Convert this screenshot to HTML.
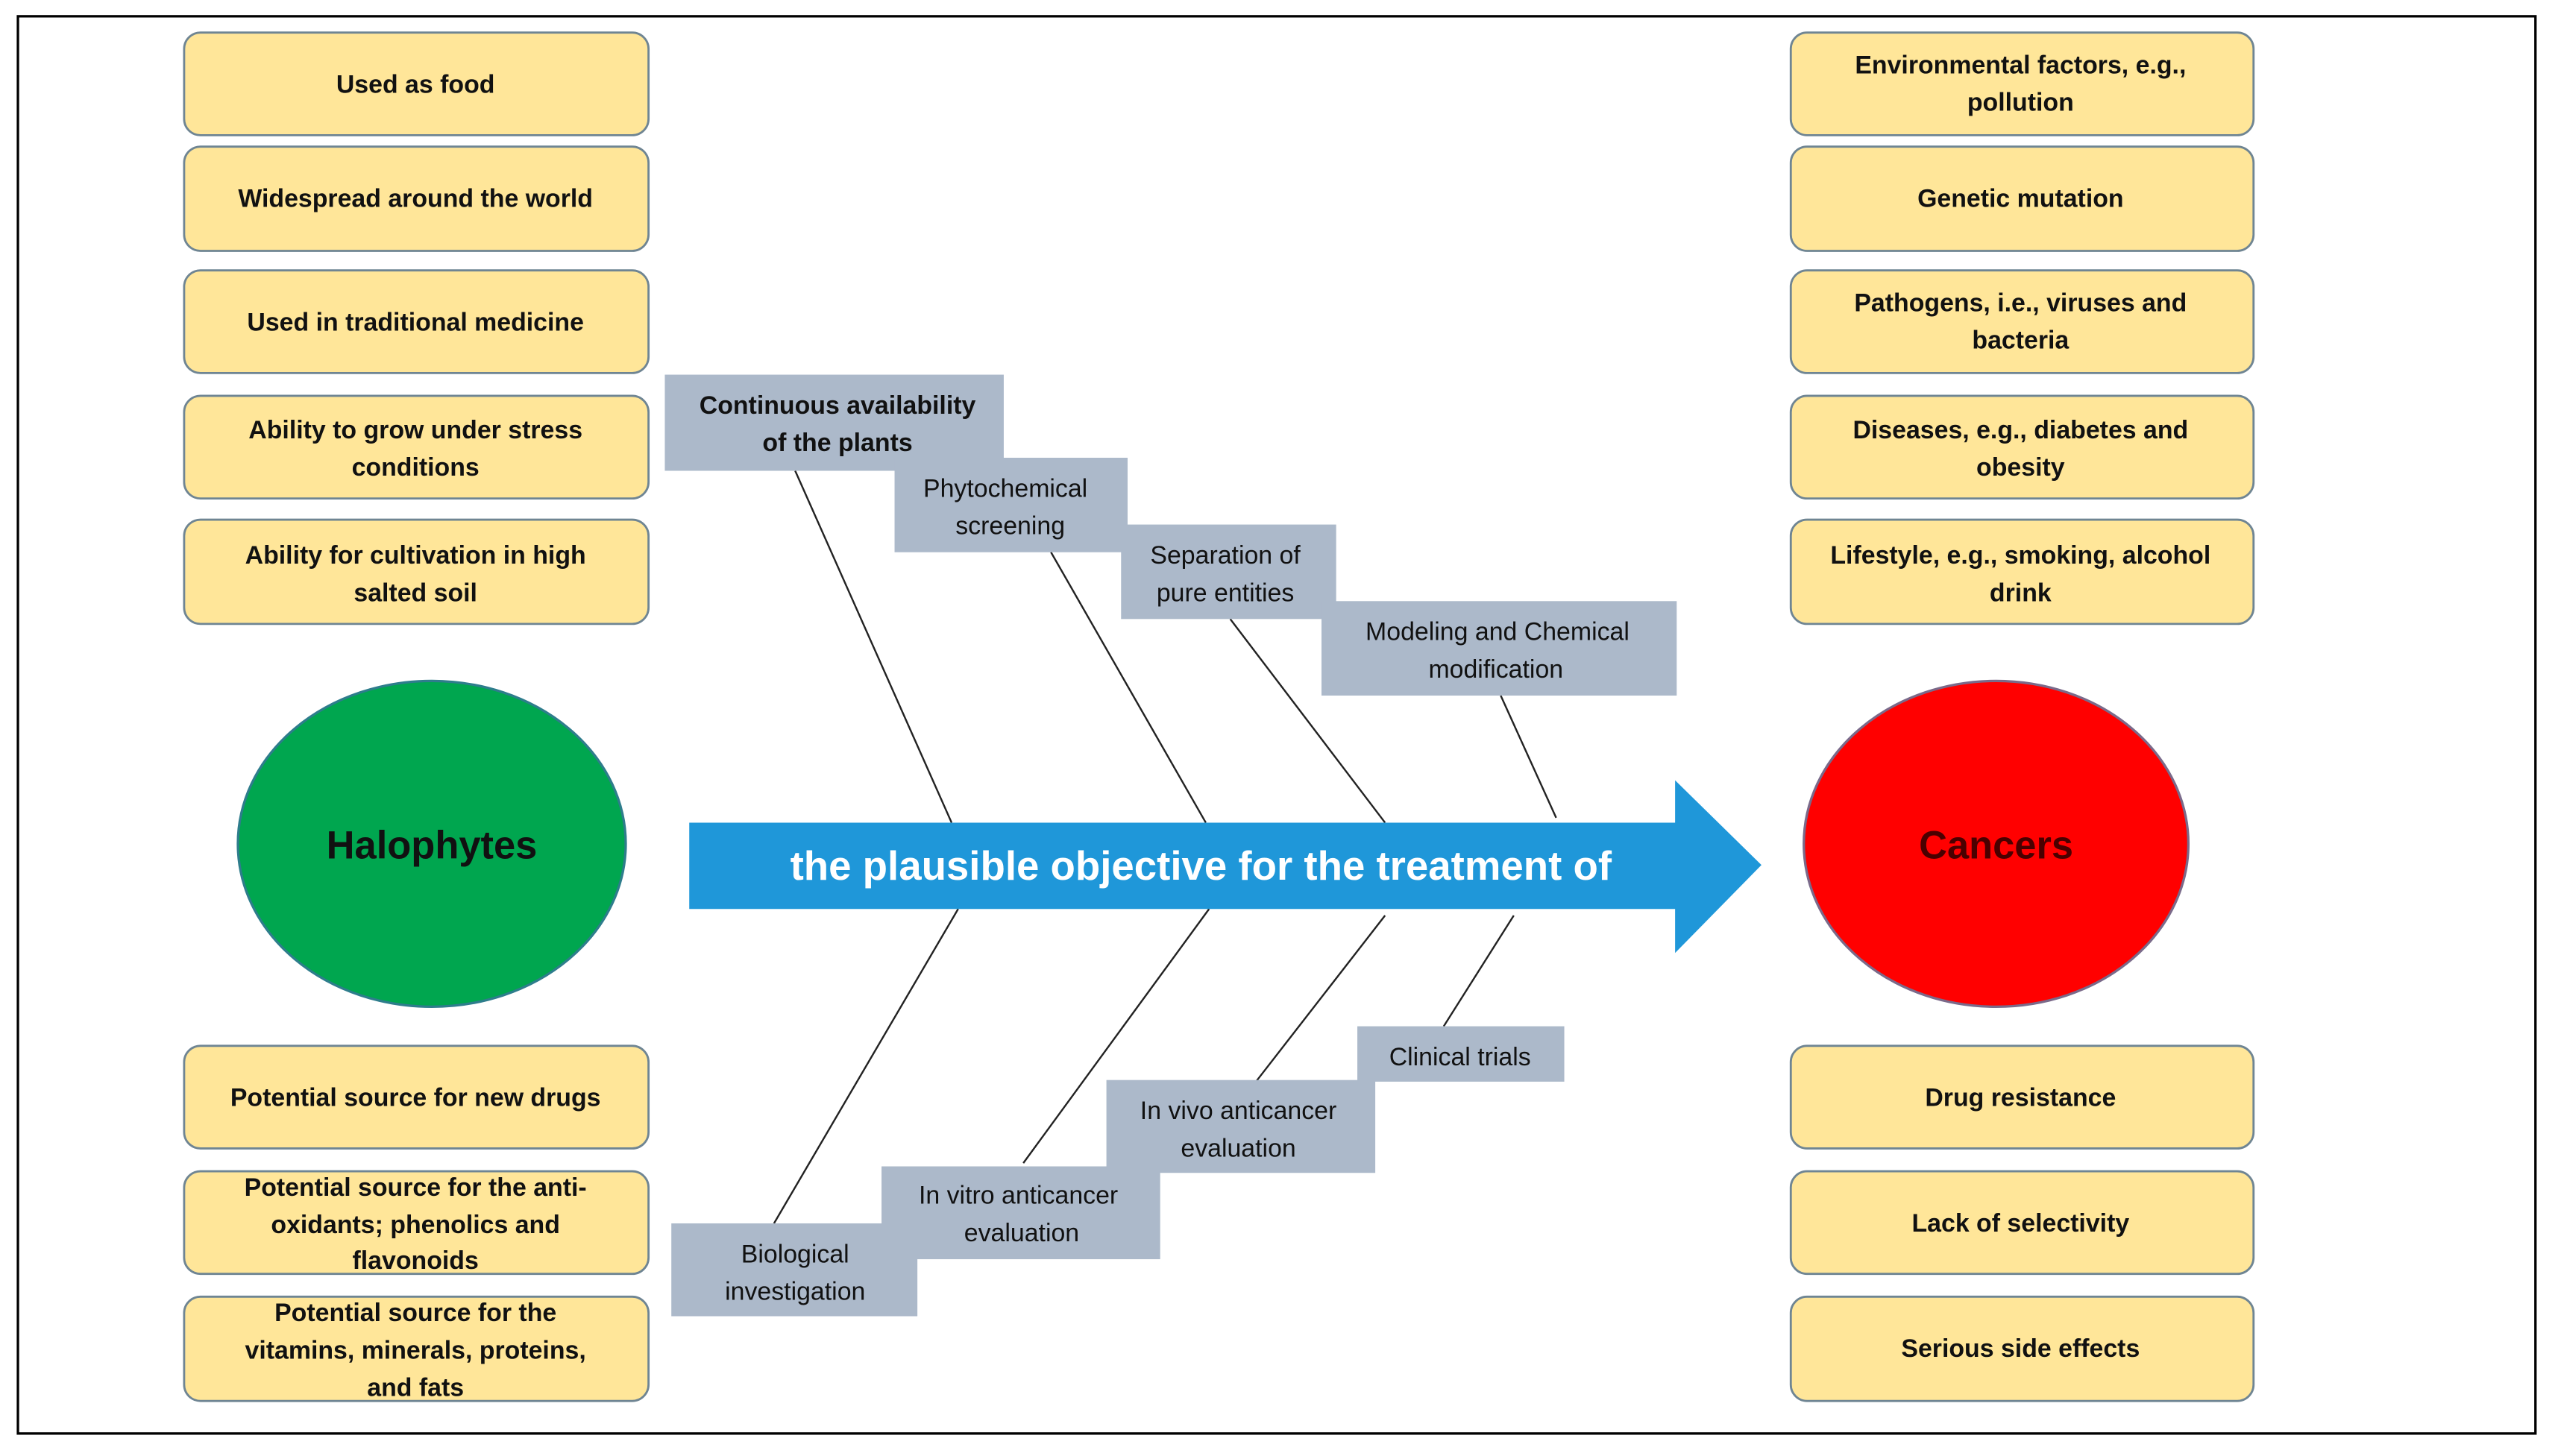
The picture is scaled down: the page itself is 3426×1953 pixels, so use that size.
<!DOCTYPE html>
<html><head><meta charset="utf-8"><style>
html,body{margin:0;padding:0;background:#fff;}
svg{display:block;}
text{font-family:"Liberation Sans",sans-serif;}
</style></head><body>
<svg width="3426" height="1953" viewBox="0 0 1568 893.8" preserveAspectRatio="none" xmlns="http://www.w3.org/2000/svg">
<rect x="11" y="10" width="1545" height="870" fill="#fff" stroke="#000" stroke-width="1.5"/>
<g fill="#FFE699" stroke="#6F8593" stroke-width="1.3">
<rect x="113" y="20" width="285" height="63" rx="10"/>
<rect x="113" y="90" width="285" height="64" rx="10"/>
<rect x="113" y="166" width="285" height="63" rx="10"/>
<rect x="113" y="243" width="285" height="63" rx="10"/>
<rect x="113" y="319" width="285" height="64" rx="10"/>
<rect x="113" y="642" width="285" height="63" rx="10"/>
<rect x="113" y="719" width="285" height="63" rx="10"/>
<rect x="113" y="796" width="285" height="64" rx="10"/>
<rect x="1099" y="20" width="284" height="63" rx="10"/>
<rect x="1099" y="90" width="284" height="64" rx="10"/>
<rect x="1099" y="166" width="284" height="63" rx="10"/>
<rect x="1099" y="243" width="284" height="63" rx="10"/>
<rect x="1099" y="319" width="284" height="64" rx="10"/>
<rect x="1099" y="642" width="284" height="63" rx="10"/>
<rect x="1099" y="719" width="284" height="63" rx="10"/>
<rect x="1099" y="796" width="284" height="64" rx="10"/>
</g>
<g font-size="15.5" font-weight="bold" fill="#111" text-anchor="middle">
<text x="255" y="57">Used as food</text>
<text x="255" y="127">Widespread around the world</text>
<text x="255" y="203">Used in traditional medicine</text>
<text x="255" y="269">Ability to grow under stress</text>
<text x="255" y="292">conditions</text>
<text x="255" y="346">Ability for cultivation in high</text>
<text x="255" y="369">salted soil</text>
<text x="255" y="679">Potential source for new drugs</text>
<text x="255" y="734">Potential source for the anti-</text>
<text x="255" y="757">oxidants; phenolics and</text>
<text x="255" y="779">flavonoids</text>
<text x="255" y="811">Potential source for the</text>
<text x="255" y="834">vitamins, minerals, proteins,</text>
<text x="255" y="857">and fats</text>
<text x="1240" y="45">Environmental factors, e.g.,</text>
<text x="1240" y="68">pollution</text>
<text x="1240" y="127">Genetic mutation</text>
<text x="1240" y="191">Pathogens, i.e., viruses and</text>
<text x="1240" y="214">bacteria</text>
<text x="1240" y="269">Diseases, e.g., diabetes and</text>
<text x="1240" y="292">obesity</text>
<text x="1240" y="346">Lifestyle, e.g., smoking, alcohol</text>
<text x="1240" y="369">drink</text>
<text x="1240" y="679">Drug resistance</text>
<text x="1240" y="756">Lack of selectivity</text>
<text x="1240" y="833">Serious side effects</text>
</g>
<ellipse cx="265" cy="518" rx="119" ry="100" fill="#00A64F" stroke="#2E7D8C" stroke-width="1.5"/>
<text x="265" y="527" font-size="24" font-weight="bold" fill="#111" text-anchor="middle">Halophytes</text>
<ellipse cx="1225" cy="518" rx="118" ry="100" fill="#FF0000" stroke="#7A6A8A" stroke-width="1.5"/>
<text x="1225" y="527" font-size="24" font-weight="bold" fill="#4a0000" text-anchor="middle">Cancers</text>
<g stroke="#222" stroke-width="1.1">
<line x1="488" y1="289" x2="584" y2="505"/>
<line x1="645" y1="339" x2="740" y2="505"/>
<line x1="755" y1="380" x2="850" y2="505"/>
<line x1="921" y1="427" x2="955" y2="502"/>
<line x1="588" y1="558" x2="475" y2="751"/>
<line x1="742" y1="558" x2="628" y2="714"/>
<line x1="850" y1="562" x2="770" y2="665"/>
<line x1="929" y1="562" x2="886" y2="630"/>
</g>
<polygon points="423,505 1028,505 1028,479 1081,531 1028,585 1028,558 423,558" fill="#1F97D9"/>
<text x="737" y="540" font-size="25" font-weight="bold" fill="#fff" text-anchor="middle">the plausible objective for the treatment of</text>
<g fill="#ACB9CA">
<rect x="408" y="230" width="208" height="59"/>
<rect x="549" y="281" width="143" height="58"/>
<rect x="688" y="322" width="132" height="58"/>
<rect x="811" y="369" width="218" height="58"/>
<rect x="833" y="630" width="127" height="34"/>
<rect x="679" y="663" width="165" height="57"/>
<rect x="541" y="716" width="171" height="57"/>
<rect x="412" y="751" width="151" height="57"/>
</g>
<g font-size="15.5" fill="#111" text-anchor="middle">
<text x="514" y="254" font-weight="bold">Continuous availability</text>
<text x="514" y="277" font-weight="bold">of the plants</text>
<text x="617" y="305">Phytochemical</text>
<text x="620" y="328">screening</text>
<text x="752" y="346">Separation of</text>
<text x="752" y="369">pure entities</text>
<text x="919" y="393">Modeling and  Chemical</text>
<text x="918" y="416">modification</text>
<text x="896" y="654">Clinical trials</text>
<text x="760" y="687">In vivo anticancer</text>
<text x="760" y="710">evaluation</text>
<text x="625" y="739">In vitro anticancer</text>
<text x="627" y="762">evaluation</text>
<text x="488" y="775">Biological</text>
<text x="488" y="798">investigation</text>
</g>
</svg>
</body></html>
